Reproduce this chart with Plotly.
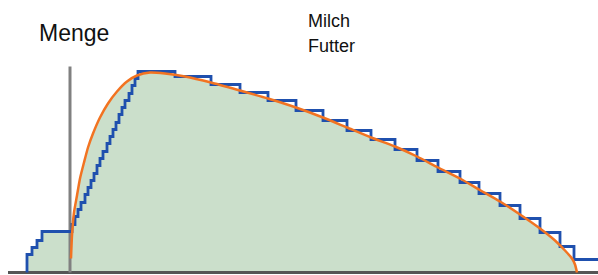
import plotly.graph_objects as go

# Feed ("Futter") step curve: x where each level starts, level value
futter_x = [27, 27, 32, 37, 42, 72, 75, 78, 81, 85, 88, 91, 94, 97, 100, 103, 107, 110,
            113, 116, 119, 122, 125, 129, 132, 135, 138, 175, 211, 240, 268, 296, 323,
            347, 371, 395, 417, 438, 460, 479, 500, 520, 540, 560, 574, 600]
futter_y = [0, 18, 25, 32, 41, 48, 56, 63, 70, 78, 85, 92, 99, 107, 114, 121, 129, 136,
            143, 150, 158, 165, 172, 179, 187, 194, 201, 196, 188, 180, 172, 162, 152,
            142, 133, 123, 112, 101, 90, 79, 67, 54, 40, 26, 13, 13]

# Milk ("Milch") lactation curve
milch_x = [71, 72, 74, 77, 80, 84, 88, 93, 100, 108, 117, 127, 137, 150, 165, 185, 211,
           240, 268, 296, 323, 347, 371, 395, 417, 438, 460, 479, 500, 520, 540, 555,
           565, 572, 575, 577]
milch_y = [14, 37, 60, 77, 94, 110, 125, 139, 155, 169, 181, 191, 197, 200, 199, 196,
           190, 182, 174, 165, 155, 145, 135, 126, 116, 105, 94, 83, 71, 58, 44, 32,
           22, 14, 8, 0]

# Axes
x_axis_x = [8, 598]
x_axis_y = [0, 0]
y_axis_x = [70, 70]
y_axis_y = [0, 206]

labels = ["Milch", "Futter"]
y_title = "Menge"

GREEN = "#cbdfcb"
BLUE = "#1f50ae"
ORANGE = "#f27321"

# left part of feed curve (before the milk starts) used for the fill
left_x = [x for x in futter_x if x <= 72]
left_y = futter_y[:len(left_x)]

fig = go.Figure()
fig.add_trace(go.Scatter(x=left_x, y=left_y, mode="lines", line=dict(width=0, shape="hv"),
                         fill="tozeroy", fillcolor=GREEN, hoverinfo="skip"))
fig.add_trace(go.Scatter(x=milch_x, y=milch_y, mode="lines",
                         line=dict(width=0, shape="spline", smoothing=0.6),
                         fill="tozeroy", fillcolor=GREEN, hoverinfo="skip"))
fig.add_trace(go.Scatter(x=x_axis_x, y=x_axis_y, mode="lines",
                         line=dict(color="#555555", width=3)))
fig.add_trace(go.Scatter(x=y_axis_x, y=y_axis_y, mode="lines",
                         line=dict(color="#808080", width=3)))
fig.add_trace(go.Scatter(x=futter_x, y=futter_y, mode="lines", name=labels[1],
                         line=dict(color=BLUE, width=2.8, shape="hv")))
fig.add_trace(go.Scatter(x=milch_x, y=milch_y, mode="lines", name=labels[0],
                         line=dict(color=ORANGE, width=2.5, shape="spline", smoothing=0.6)))

font_family = "Liberation Sans, Arial, Helvetica, sans-serif"
fig.update_layout(
    width=598, height=275,
    margin=dict(l=0, r=0, t=0, b=0),
    paper_bgcolor="white", plot_bgcolor="white",
    showlegend=False,
    xaxis=dict(range=[0, 598], visible=False, fixedrange=True),
    yaxis=dict(range=[-2.5, 272.5], visible=False, fixedrange=True),
    annotations=[
        dict(x=37, y=272 - 32, xref="x", yref="y", text=y_title, showarrow=False,
             xanchor="left", yanchor="middle", font=dict(size=23, color="#111111", family=font_family)),
        dict(x=306, y=272 - 20, xref="x", yref="y", text=labels[0], showarrow=False,
             xanchor="left", yanchor="middle", font=dict(size=18, color="#111111", family=font_family)),
        dict(x=306, y=272 - 45, xref="x", yref="y", text=labels[1], showarrow=False,
             xanchor="left", yanchor="middle", font=dict(size=18, color="#111111", family=font_family)),
    ],
)

fig.write_html("out.html", config={"displayModeBar": False},
               post_script="document.body.style.margin='0';document.body.style.padding='0';")
